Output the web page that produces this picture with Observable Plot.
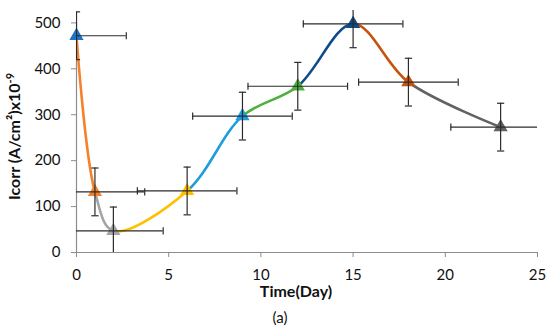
<!DOCTYPE html>
<html><head><meta charset="utf-8">
<script src="https://cdn.jsdelivr.net/npm/d3@7"></script>
<script src="https://cdn.jsdelivr.net/npm/@observablehq/plot@0.6"></script>
<style>body{margin:0;background:#fff}</style>
</head><body><div id="chart"></div>
<script>
const days = [0, 1, 2, 6, 9, 12, 15, 18, 23];
const icorr = [472, 132, 47, 134, 297, 362, 498, 371, 273];
const icorrErr = [52, 52, 52, 52, 52, 52, 52, 52, 52];
const dayErr = [2.7, 2.7, 2.7, 2.7, 2.7, 2.7, 2.7, 2.7, 2.7];
const pointColors = ["#1F72C8", "#F5822A", "#A5A5A5", "#FFC000", "#1E9DDD", "#4DAF3E", "#0E4B8B", "#C8520C", "#626262"];
const xTicks = [0, 5, 10, 15, 20, 25];
const yTicks = [0, 100, 200, 300, 400, 500];
const yTop = 527;
const xLabel = "Time(Day)";
const yLabel = "Icorr (A/cm²)x10";
const yLabelSup = "-9";
const caption = "(a)";

const segmentColors = pointColors.slice(1);
const points = days.map((d, i) => ({
  day: d, icorr: icorr[i],
  lo: icorr[i] - icorrErr[i], hi: icorr[i] + icorrErr[i],
  dlo: d - dayErr[i], dhi: d + dayErr[i],
  color: pointColors[i]
}));

const axisColor = "#8c8c8c";
const errColor = "#2b2b2b";
const hCap = {draw(ctx, size) { const r = Math.sqrt(size / Math.PI); ctx.moveTo(0, -r); ctx.lineTo(0, r); }};
const vCap = {draw(ctx, size) { const r = Math.sqrt(size / Math.PI); ctx.moveTo(-r, 0); ctx.lineTo(r, 0); }};

const lineMarks = segmentColors.map(c => Plot.line(points, {x: "day", y: "icorr", curve: "catmull-rom", stroke: c, strokeWidth: 2.6}));

const plot = Plot.plot({
  width: 550, height: 334,
  marginLeft: 76, marginRight: 13, marginTop: 10, marginBottom: 82,
  style: {fontFamily: "Lato", fontSize: "15px", color: "#111", background: "#fff"},
  x: {domain: [xTicks[0], xTicks[xTicks.length - 1]]},
  y: {domain: [0, yTop]},
  color: {type: "identity"},
  marks: [
    Plot.ruleY([yTicks[0]], {x1: xTicks[0], x2: xTicks[xTicks.length - 1], stroke: axisColor, strokeWidth: 1.2}),
    Plot.ruleX([xTicks[0]], {y1: yTicks[0], y2: yTicks[yTicks.length - 1], stroke: axisColor, strokeWidth: 1.2}),
    Plot.axisX({ticks: xTicks, tickSize: 5, tickPadding: 12, stroke: axisColor, label: null}),
    Plot.axisY({ticks: yTicks, tickSize: 5, tickPadding: 11, stroke: axisColor, label: null}),
    ...lineMarks,
    Plot.dot(points, {x: "day", y: "icorr", symbol: "triangle", r: 5.3, fill: "color"}),
    Plot.ruleY(points, {y: "icorr", x1: "dlo", x2: "dhi", stroke: errColor, strokeWidth: 1.2, clip: true}),
    Plot.ruleX(points, {x: "day", y1: "lo", y2: "hi", stroke: errColor, strokeWidth: 1.2, clip: true}),
    Plot.dot(points, {x: "dlo", y: "icorr", symbol: hCap, r: 3.6, stroke: errColor, fill: "none", strokeWidth: 1.2, clip: true}),
    Plot.dot(points, {x: "dhi", y: "icorr", symbol: hCap, r: 3.6, stroke: errColor, fill: "none", strokeWidth: 1.2, clip: true}),
    Plot.dot(points, {x: "day", y: "lo", symbol: vCap, r: 3.6, stroke: errColor, fill: "none", strokeWidth: 1.2, clip: true}),
    Plot.dot(points, {x: "day", y: "hi", symbol: vCap, r: 3.6, stroke: errColor, fill: "none", strokeWidth: 1.2, clip: true}),
    Plot.text([yLabel], {text: d => d, frameAnchor: "left", textAnchor: "middle", rotate: -90, dx: -62, dy: 5, fontWeight: "bold", fontSize: 16, fill: "#111", className: "ylab"}),
    Plot.text([xLabel], {text: d => d, frameAnchor: "bottom", dx: -11, dy: 44, fontWeight: "bold", fontSize: 16, fill: "#111"}),
    Plot.text([caption], {text: d => d, frameAnchor: "bottom", dx: -27, dy: 70, fontSize: 15, fill: "#111"})
  ]
});

// superscript exponent on the y label
const yText = plot.querySelector(".ylab text");
if (yText) {
  const sup = document.createElementNS("http://www.w3.org/2000/svg", "tspan");
  sup.setAttribute("baseline-shift", "super");
  sup.setAttribute("font-size", "11");
  sup.textContent = yLabelSup;
  yText.appendChild(sup);
}

// clip each coloured copy of the smooth curve to its own segment between consecutive days
const xs = plot.scale("x");
const ns = "http://www.w3.org/2000/svg";
const defs = document.createElementNS(ns, "defs");
plot.appendChild(defs);
plot.querySelectorAll('g[aria-label="line"]').forEach((g, i) => {
  const cp = document.createElementNS(ns, "clipPath");
  cp.setAttribute("id", "seg" + i);
  const r = document.createElementNS(ns, "rect");
  const x0 = xs.apply(days[i]), x1 = xs.apply(days[i + 1]);
  r.setAttribute("x", x0); r.setAttribute("width", x1 - x0);
  r.setAttribute("y", 0); r.setAttribute("height", 334);
  cp.appendChild(r); defs.appendChild(cp);
  g.setAttribute("clip-path", "url(#seg" + i + ")");
});
document.getElementById("chart").appendChild(plot);
</script>
</body></html>
